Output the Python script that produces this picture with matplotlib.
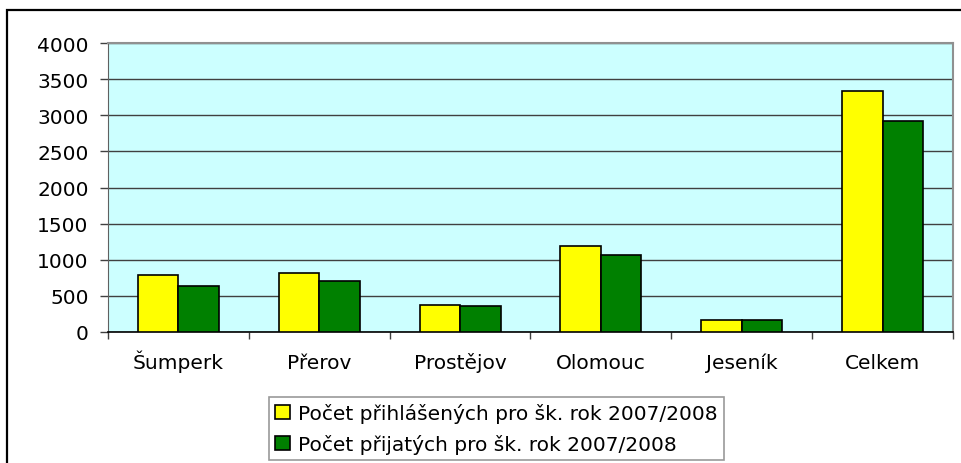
import matplotlib.pyplot as plt
import numpy as np
from matplotlib.patches import Rectangle

# Data
okresy = ['Šumperk', 'Přerov', 'Prostějov', 'Olomouc', 'Jeseník', 'Celkem']
prihlaseni = [793, 816, 378, 1190, 162, 3331]
prijati = [632, 710, 355, 1066, 162, 2920]
yticks = [0, 500, 1000, 1500, 2000, 2500, 3000, 3500, 4000]
legend_labels = ['Počet přihlášených pro šk. rok 2007/2008',
                 'Počet přijatých pro šk. rok 2007/2008']

plt.rcParams['font.family'] = ['DejaVu Sans']

fig = plt.figure(figsize=(9.62, 4.64), dpi=100)
ax = fig.add_axes([108 / 962, 1 - 333 / 464, 845 / 962, 289 / 464])

# outer chart frame (clipped on right and bottom like the reference)
fig.patches.append(Rectangle((7 / 962, -0.2), 1.5, 0.2 + 1 - 11 / 464,
                             transform=fig.transFigure, fill=False,
                             edgecolor='black', linewidth=1.6))

ax.set_facecolor('#CCFFFF')
x = np.arange(len(okresy))
w = 0.287
b1 = ax.bar(x - w / 2, prihlaseni, w, color='#FFFF00', edgecolor='black',
            linewidth=1.2, label=legend_labels[0], zorder=3)
b2 = ax.bar(x + w / 2, prijati, w, color='#008000', edgecolor='black',
            linewidth=1.2, label=legend_labels[1], zorder=3)

ax.set_ylim(0, 4000)
ax.set_xlim(-0.5, len(okresy) - 0.5)
ax.set_yticks(yticks)
ax.set_yticklabels([str(v) for v in yticks], fontsize=14.5)
ax.yaxis.grid(True, color='#404040', linewidth=1.0, zorder=0)
ax.set_axisbelow(True)

ax.set_xticks(x)
ax.set_xticklabels(okresy, fontsize=14.5, va='baseline')
ax.tick_params(axis='x', length=0, pad=26)
ax.set_xticks(np.arange(len(okresy) + 1) - 0.5, minor=True)
ax.tick_params(axis='x', which='minor', length=5, width=1.0, color='#404040')
ax.tick_params(axis='y', length=6, width=1.0, pad=8, color='#404040')

for s in ['top', 'right']:
    ax.spines[s].set_color('#909090')
    ax.spines[s].set_linewidth(1.5)
ax.spines['left'].set_color('#606060')
ax.spines['bottom'].set_color('black')
ax.spines['bottom'].set_linewidth(1.2)

leg = fig.legend(handles=[b1, b2], loc='upper left',
                 bbox_to_anchor=(269 / 962, 1 - 398 / 464),
                 bbox_transform=fig.transFigure, borderaxespad=0,
                 fontsize=14.5, frameon=True, fancybox=False,
                 edgecolor='#808080', handlelength=0.75, handleheight=0.75,
                 handletextpad=0.4, borderpad=0.3, labelspacing=0.55)
leg.get_frame().set_linewidth(1.2)

plt.savefig('out.png', dpi=100)
